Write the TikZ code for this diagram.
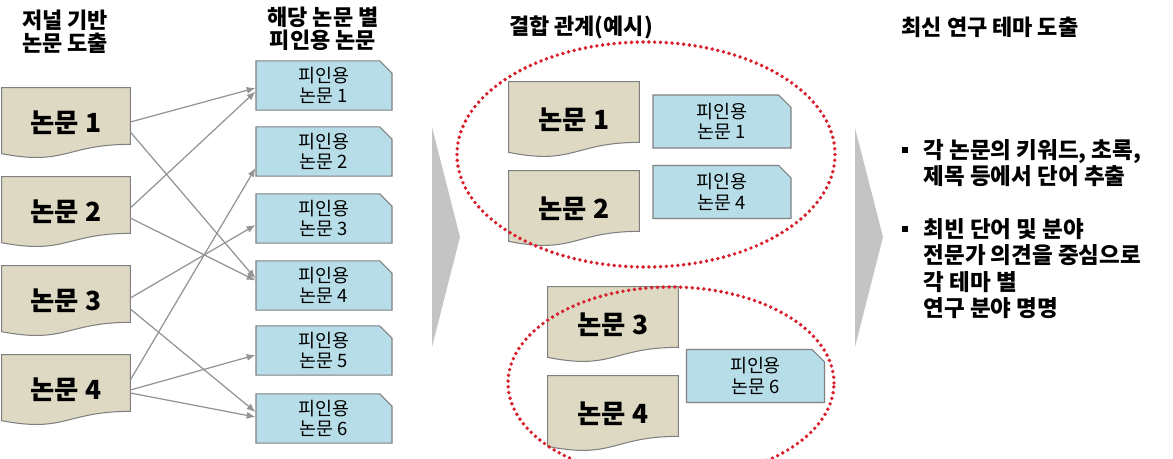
\documentclass[tikz,border=0pt]{standalone}
\usepackage{fontspec}
\setmainfont{Noto Sans CJK KR}
\usepackage{xcolor}
\usepackage{tikz}
\usetikzlibrary{arrows.meta,positioning,shapes.misc,backgrounds,calc}

\definecolor{papertan}{HTML}{DDD9C3}
\definecolor{citeblue}{HTML}{B7DEE8}
\definecolor{edgegray}{HTML}{808080}
\definecolor{linkgray}{HTML}{939393}
\definecolor{dotred}{HTML}{D8202C}
\definecolor{chevgray}{HTML}{C4C4C4}

% outline of a paper (document) box, wavy bottom edge
\newcommand{\paperpath}[1]{(#1.north west) -- (#1.north east)
  -- ($(#1.north east)!0.802!(#1.south east)$)
  .. controls ($(#1.north)!0.802!(#1.south)$) and ($(#1.north)!1.1075!(#1.south)$)
  .. ($(#1.north west)!0.934!(#1.south west)$) -- cycle}
\newcommand{\bul}{\makebox[0.95em][l]{\rule[0.25em]{0.27em}{0.27em}}}

\begin{document}
\begin{tikzpicture}[
    >=Latex,
    paper/.style={minimum width=2.56cm, minimum height=1.4cm, inner sep=0pt,
                  font=\fontsize{15}{17}\selectfont\bfseries},
    bigpaper/.style={paper, minimum width=2.6cm, minimum height=1.5cm},
    paperbg/.style={fill=papertan, draw=edgegray, line width=0.6pt},
    cited/.style={chamfered rectangle, chamfered rectangle corners=north east,
                  chamfered rectangle xsep=0.12cm, draw=edgegray, fill=citeblue,
                  line width=0.6pt, minimum width=2.72cm, minimum height=0.94cm,
                  inner sep=0pt, align=center,
                  font=\fontsize{10.5}{11.5}\selectfont},
    bigcited/.style={cited, minimum width=2.76cm, minimum height=1.06cm},
    heading/.style={align=center, font=\fontsize{12.5}{13.2}\selectfont\bfseries},
    note/.style={align=left, inner sep=0pt, anchor=north west,
                 font=\fontsize{12.8}{15}\selectfont\bfseries},
    link/.style={-{Latex[length=5pt,width=4pt]}, linkgray, line width=0.7pt},
    group/.style={dotred, line width=2.2pt, line cap=round,
                  dash pattern=on 0pt off 3.3pt},
    chevron/.style={fill=chevgray},
  ]
  \useasboundingbox (0,0) rectangle (23.46,-9.18);

  % ── Headings ──
  \node[heading] at (1.30,-0.64) (h1) {저널 기반\\논문 도출};
  \node[heading] at (6.46,-0.58) (h2) {해당 논문 별\\피인용 논문};
  \node[heading] at (11.62,-0.54) (h3) {결합 관계(예시)};
  \node[heading] at (19.80,-0.54) (h4) {최신 연구 테마 도출};

  % ── Column 1: papers from journals ──
  \node[paper] at (1.32,-2.46) (p1) {논문 1};
  \node[paper] at (1.32,-4.24) (p2) {논문 2};
  \node[paper] at (1.32,-6.02) (p3) {논문 3};
  \node[paper] at (1.32,-7.80) (p4) {논문 4};

  % ── Column 2: cited papers ──
  \node[cited] at (6.48,-1.71) (c1) {피인용\\논문 1};
  \node[cited] at (6.48,-3.03) (c2) {피인용\\논문 2};
  \node[cited] at (6.48,-4.37) (c3) {피인용\\논문 3};
  \node[cited] at (6.48,-5.71) (c4) {피인용\\논문 4};
  \node[cited] at (6.48,-7.01) (c5) {피인용\\논문 5};
  \node[cited] at (6.48,-8.37) (c6) {피인용\\논문 6};

  % ── Column 3: coupling example ──
  \node[bigpaper] at (11.48,-2.39) (m1) {논문 1};
  \node[bigpaper] at (11.48,-4.17) (m2) {논문 2};
  \node[bigpaper] at (12.26,-6.49) (m3) {논문 3};
  \node[bigpaper] at (12.26,-8.27) (m4) {논문 4};
  \node[bigcited] at (14.44,-2.43) (n1) {피인용\\논문 1};
  \node[bigcited] at (14.44,-3.84) (n4) {피인용\\논문 4};
  \node[bigcited] at (15.11,-7.52) (n6) {피인용\\논문 6};

  % ── Column 4: notes ──
  \node[note] at (18.04,-2.78) (t1)
    {\bul 각 논문의 키워드, 초록,\\
     \hspace*{0.95em}제목 등에서 단어 추출};
  \node[note] at (18.04,-4.36) (t2)
    {\bul 최빈 단어 및 분야\\
     \hspace*{0.95em}전문가 의견을 중심으로\\
     \hspace*{0.95em}각 테마 별\\
     \hspace*{0.95em}연구 분야 명명};

  % ── Paper outlines ──
  \begin{scope}[on background layer]
    \filldraw[paperbg] \paperpath{p1};
    \filldraw[paperbg] \paperpath{p2};
    \filldraw[paperbg] \paperpath{p3};
    \filldraw[paperbg] \paperpath{p4};
    \filldraw[paperbg] \paperpath{m1};
    \filldraw[paperbg] \paperpath{m2};
    \filldraw[paperbg] \paperpath{m3};
    \filldraw[paperbg] \paperpath{m4};
  \end{scope}

  % ── Citation links ──
  % paper 1
  \draw[link] ([yshift=0.02cm]p1.east) -- ([yshift=-0.05cm]c1.west);
  \draw[link] ([yshift=-0.18cm]p1.east) -- ([yshift=0.14cm]c4.west);
  % paper 2
  \draw[link] ([yshift=0.08cm]p2.east) -- ([yshift=-0.12cm]c1.west);
  \draw[link] ([yshift=-0.12cm]p2.east) -- ([yshift=0.10cm]c4.west);
  % paper 3
  \draw[link] ([yshift=0.06cm]p3.east) -- ([yshift=-0.13cm]c3.west);
  \draw[link] ([yshift=-0.16cm]p3.east) -- ([yshift=0.13cm]c6.west);
  % paper 4
  \draw[link] ([yshift=0.20cm]p4.east) -- ([yshift=-0.33cm]c2.west);
  \draw[link] (p4.east) -- ([yshift=-0.09cm]c5.west);
  \draw[link] ([yshift=-0.06cm]p4.east) -- ([yshift=0.03cm]c6.west);

  % ── Step chevrons ──
  \fill[chevron] (8.64,-2.54) -- (9.20,-4.74) -- (8.64,-6.94) -- cycle;
  \fill[chevron] (17.10,-2.56) -- (17.66,-4.74) -- (17.10,-6.94) -- cycle;

  % ── Coupling groups ──
  \draw[group] (12.92,-3.09) ellipse [x radius=3.78cm, y radius=2.25cm];
  \begin{scope}
    \clip (0,0) rectangle (23.46,-9.18);
    \draw[group] (13.42,-7.66) ellipse [x radius=3.26cm, y radius=1.92cm];
  \end{scope}

\end{tikzpicture}
\end{document}
